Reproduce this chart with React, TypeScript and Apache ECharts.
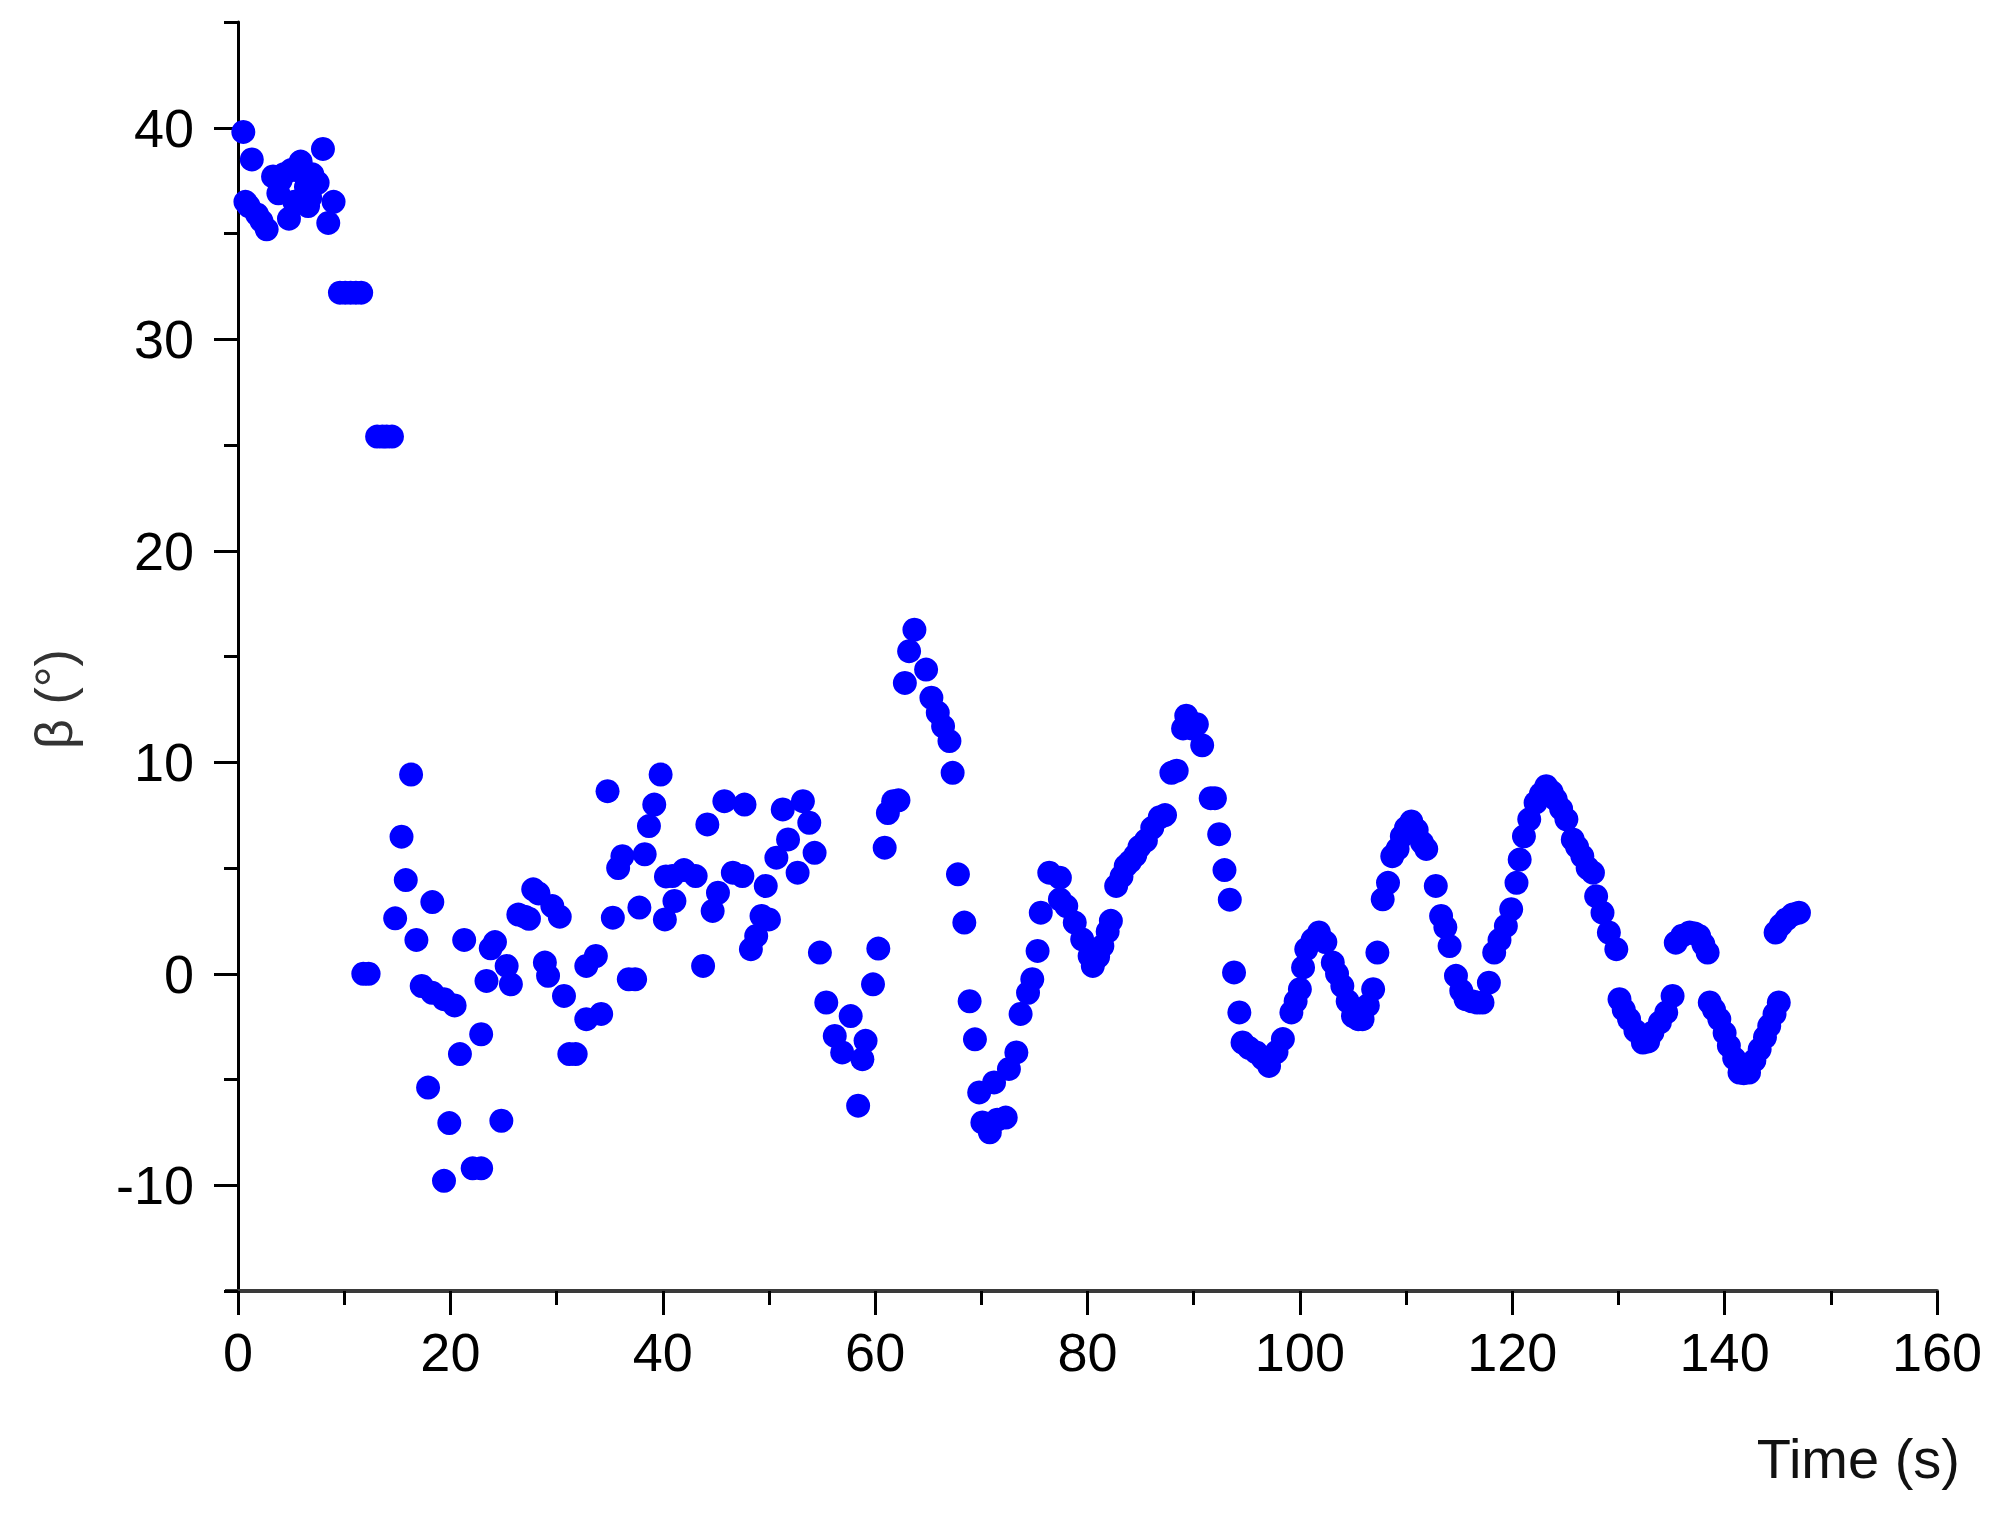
import React, { useEffect, useRef } from "react";
import * as echarts from "echarts";

const timeValues = [
  0.5, 0.7, 1.0, 1.3, 1.8, 2.2, 2.7, 3.3, 3.8, 4.0, 4.3, 4.8, 5.0, 5.3, 5.9, 6.0, 6.4, 6.6, 6.8, 7.0, 7.5, 8.0, 8.5, 9.0,
  9.6, 10.1, 10.6, 11.1, 11.6, 13.1, 13.6, 14.0, 14.5,
  11.8, 12.3, 14.8, 15.4, 15.8, 16.3, 16.8, 17.3, 17.9, 18.3, 18.3, 19.4, 19.4, 19.9, 20.4, 20.9, 21.3, 22.1, 22.9, 22.9,
  23.4, 23.8, 24.2, 24.8, 25.3, 25.7, 26.4, 27.0, 27.4, 27.8, 28.3, 28.9, 29.2, 29.6, 30.3, 30.7, 31.2, 31.8, 32.8, 32.8,
  33.7, 34.2, 34.8, 35.3, 35.8, 36.2, 36.8, 37.4, 37.8, 38.3, 38.7, 39.2, 39.8, 40.2, 40.3, 40.9, 41.1, 42.0, 43.1, 43.8,
  44.2, 44.7, 45.2, 45.8, 46.6, 47.5, 47.7, 48.3, 48.8, 49.3, 49.7, 50.0, 50.7, 51.3, 51.8, 52.7, 53.2, 53.8, 54.3, 54.8,
  55.4, 56.2, 56.9, 57.7, 58.4, 58.8, 59.1, 59.8, 60.3, 60.9, 61.2, 61.7, 62.2, 62.8, 63.2, 63.7, 64.8, 65.3, 65.9, 66.4,
  67.0, 67.3, 67.8, 68.4, 68.9, 69.4, 69.8, 70.1, 70.8, 71.2, 71.5, 72.3, 72.6, 73.3, 73.7, 74.4, 74.8, 75.3, 75.6, 76.4,
  77.4, 77.4, 78.0, 78.8, 79.5, 80.2, 80.5, 81.0, 81.4, 81.9, 82.2, 82.7, 83.2, 83.6, 84.0, 84.5, 84.9, 85.5, 86.1, 86.8,
  87.3, 87.9, 88.4, 89.0, 89.3, 89.8, 90.3, 90.8, 91.6, 92.0, 92.4, 92.9, 93.4, 93.8,
  94.3, 94.6, 95.2, 95.9, 96.5, 97.1, 97.8, 98.4, 99.2, 99.6, 100.0, 100.3, 100.6, 101.2, 101.8, 102.4, 103.1, 103.5,
  104.0, 104.5, 105.0, 105.5, 105.9, 106.4, 106.9, 107.3, 107.8, 108.3, 108.7, 109.2, 109.6, 110.0, 110.5, 111.0, 111.5,
  111.9, 112.8, 113.3, 113.7, 114.1, 114.7, 115.2, 115.6, 116.2, 116.7, 117.2, 117.8, 118.3, 118.8, 119.4, 119.9, 120.4,
  120.7, 121.1, 121.6, 122.2, 122.7, 123.2, 123.7, 124.1, 124.6, 125.1, 125.7, 126.1, 126.6, 127.1, 127.6, 127.9, 128.5,
  129.1, 129.8, 130.1, 130.5, 131.0, 131.6, 132.3, 132.8, 133.2, 133.9, 134.5, 135.1, 135.4, 136.0, 136.7, 137.2, 137.6,
  138.0, 138.4, 138.6, 139.0, 139.5, 140.0, 140.4, 140.9, 141.4, 141.8, 142.3, 142.8, 143.3, 143.8, 144.2, 144.7, 145.1,
  144.8, 145.3, 145.8, 146.4, 147.0,
];

const betaValues = [
  39.8, 36.5, 36.3, 38.5, 35.9, 35.6, 35.2, 37.7, 36.9, 37.5, 37.8, 35.7, 38.0, 36.5, 38.4, 37.9, 37.2, 36.3, 36.7, 37.8, 37.4, 39.0, 35.5, 36.5,
  32.2, 32.2, 32.2, 32.2, 32.2, 25.4, 25.4, 25.4, 25.4,
  0.0, 0.0, 2.62, 6.48, 4.43, 9.42, 1.6, -0.58, -5.38, 3.39, -0.9, -1.2, -9.79, -7.06, -1.5, -3.8, 1.6, -9.2, -9.2, -2.86,
  -0.34, 1.2, 1.5, -6.95, 0.37, -0.5, 2.8, 2.7, 2.6, 3.99, 3.8, 0.53, -0.1, 3.2, 2.7, -1.05, -3.8, -3.8, 0.37, -2.15,
  0.84, -1.9, 8.63, 2.65, 5.0, 5.56, -0.26, -0.26, 3.13, 5.65, 6.98, 8.0, 9.42, 2.57, 4.6, 4.62, 3.44, 4.9, 4.62, 0.37,
  7.06, 2.97, 3.83, 8.16, 4.78, 4.62, 8.0, 1.16, 1.79, 2.73, 4.15, 2.57, 5.49, 7.77, 6.35, 4.78, 8.16, 7.14, 5.72, 1.0,
  -1.36, -2.94, -3.72, -2.0, -6.24, -4.04, -3.17, -0.5, 1.19, 5.96, 7.6, 8.16, 8.2, 13.75, 15.25, 16.27, 14.38, 13.05, 12.34, 11.7,
  11.0, 9.5, 4.7, 2.42, -1.3, -3.1, -5.61, -7.03, -7.5, -5.14, -6.9, -6.8, -4.5, -3.72, -1.9, -0.9, -0.26, 1.08, 2.89, 4.78,
  4.54, 3.52, 3.2, 2.42, 1.63, 0.84, 0.37, 0.8, 1.31, 2.0, 2.5, 4.15, 4.6, 5.1, 5.3, 5.6, 6.0, 6.3, 6.9, 7.4,
  7.5, 9.5, 9.6, 11.6, 12.2, 11.6, 11.8, 10.8, 8.3, 8.3, 6.6, 4.9, 3.5, 0.06,
  -1.83, -3.25, -3.5, -3.72, -4.0, -4.36, -3.7, -3.09, -1.83, -1.3, -0.73, 0.3, 1.16, 1.6, 1.95, 1.5, 0.53, 0.0,
  -0.58, -1.3, -2.0, -2.15, -2.15, -1.5, -0.73, 1.0, 3.52, 4.3, 5.56, 5.9, 6.5, 6.9, 7.2, 6.8, 6.2,
  5.9, 4.15, 2.73, 2.2, 1.31, -0.1, -0.8, -1.2, -1.3, -1.36, -1.36, -0.42, 1.0, 1.6, 2.26, 3.05, 4.3,
  5.4, 6.5, 7.3, 8.09, 8.5, 8.87, 8.6, 8.24, 7.8, 7.3, 6.35, 6.0, 5.56, 5.0, 4.78, 3.67, 2.89,
  1.95, 1.16, -1.2, -1.7, -2.15, -2.7, -3.25, -3.2, -2.78, -2.3, -1.83, -1.05, 1.47, 1.8, 1.95, 1.9, 1.79,
  1.4, 1.0, -1.36, -1.7, -2.15, -2.8, -3.41, -4.0, -4.67, -4.7, -4.67, -4.1, -3.57, -3.0, -2.47, -1.9, -1.36,
  1.95, 2.3, 2.57, 2.8, 2.89,
];

const xTickMin = 0;
const xTickMax = 160;
const xTickStep = 20;
const yMin = -15;
const yMax = 45;
const yMajorTicks = [-10, 0, 10, 20, 30, 40];
const yMinorTicks = [-15, -5, 5, 15, 25, 35, 45];

const xTitle = "Time (s)";
const yTitle = "β (°)";

const FONT = "'Liberation Sans', Arial, sans-serif";

export default function App() {
  const ref = useRef<HTMLDivElement>(null);

  useEffect(() => {
    document.body.style.margin = "0";
    const chart = echarts.init(ref.current!, null, { renderer: "svg" });
    const data = timeValues.map((t, i) => [t, betaValues[i]]);
    chart.setOption({
      animation: false,
      backgroundColor: "#ffffff",
      grid: { left: 238, right: 63, top: 22, bottom: 226, containLabel: false },
      xAxis: {
        type: "value",
        min: xTickMin,
        max: xTickMax,
        interval: xTickStep,
        axisLine: { show: true, onZero: false, lineStyle: { color: "#3a3a3a", width: 4 } },
        axisTick: { show: true, length: 24, lineStyle: { color: "#000", width: 3 } },
        minorTick: { show: true, splitNumber: 2, length: 14, lineStyle: { color: "#000", width: 3 } },
        axisLabel: { fontSize: 54, color: "#000", fontFamily: FONT, margin: 34 },
        splitLine: { show: false },
      },
      yAxis: [
        {
          type: "value",
          min: yMin,
          max: yMax,
          interval: 5,
          axisLine: { show: true, onZero: false, lineStyle: { color: "#000", width: 3 } },
          axisTick: { show: true, length: 24, customValues: yMajorTicks, lineStyle: { color: "#000", width: 3 } },
          axisLabel: { fontSize: 54, color: "#000", fontFamily: FONT, margin: 44, customValues: yMajorTicks },
          splitLine: { show: false },
        },
        {
          type: "value",
          min: yMin,
          max: yMax,
          interval: 5,
          position: "left",
          axisLine: { show: false, onZero: false },
          axisTick: { show: true, length: 14, customValues: yMinorTicks, lineStyle: { color: "#000", width: 3 } },
          axisLabel: { show: false },
          splitLine: { show: false },
        },
      ],
      graphic: [
        {
          type: "line",
          shape: { x1: 225, y1: 1291, x2: 238, y2: 1291 },
          style: { stroke: "#3a3a3a", lineWidth: 4 },
        },
        {
          type: "text",
          x: 54,
          y: 699,
          rotation: Math.PI / 2,
          style: {
            text: yTitle,
            fontSize: 52,
            fontFamily: FONT,
            fill: "#333",
            align: "center",
            verticalAlign: "middle",
          },
        },
        {
          type: "text",
          x: 1960,
          y: 1458,
          style: {
            text: xTitle,
            fontSize: 56,
            fontFamily: FONT,
            fill: "#111",
            align: "right",
            verticalAlign: "middle",
          },
        },
      ],
      series: [
        {
          type: "scatter",
          data,
          symbol: "circle",
          symbolSize: 24,
          itemStyle: { color: "#0000ff", opacity: 1 },
          yAxisIndex: 0,
        },
      ],
    });
    return () => chart.dispose();
  }, []);

  return (
    <div
      ref={ref}
      style={{ position: "absolute", left: 0, top: 0, width: 2000, height: 1517, background: "#fff" }}
    />
  );
}
